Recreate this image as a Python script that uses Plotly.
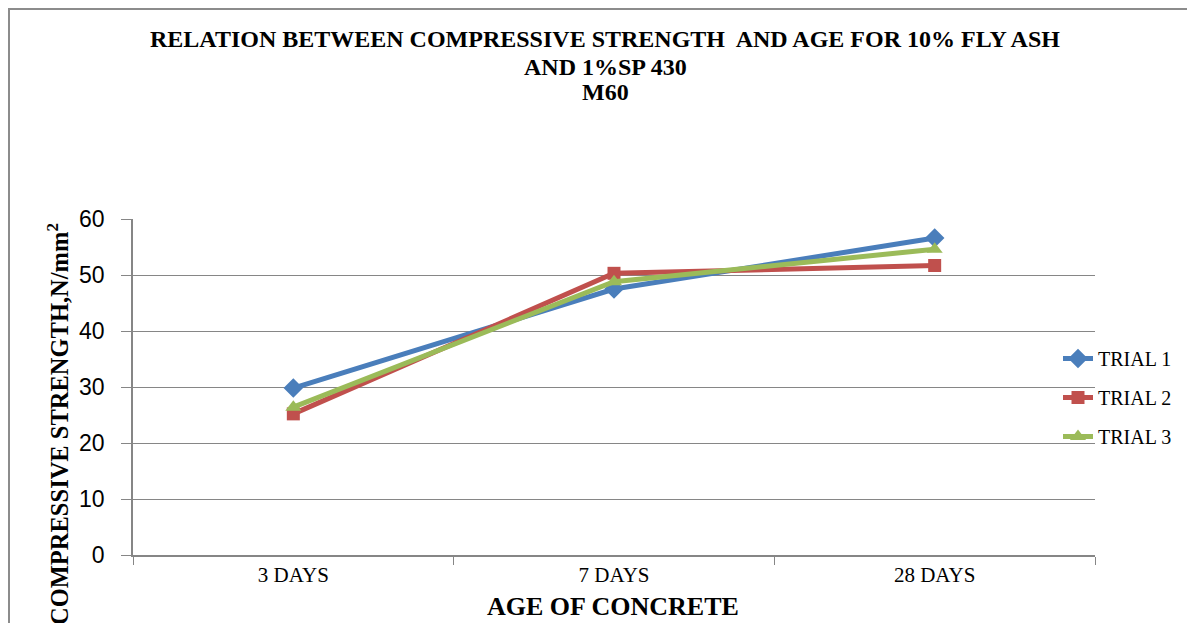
import plotly.graph_objects as go

categories = ["3 DAYS", "7 DAYS", "28 DAYS"]
trial1 = [29.8, 47.5, 56.6]
trial2 = [25.2, 50.3, 51.7]
trial3 = [26.4, 48.8, 54.6]
series_names = ["TRIAL 1", "TRIAL 2", "TRIAL 3"]
y_ticks = [0, 10, 20, 30, 40, 50, 60]

# page offset (browser body margin)
OFF = 8
W, H = 1195, 623
# plot area in screen pixels: x 133..1095, y 219..555
SX0, SX1, SY0, SY1 = 133, 1095, 219, 555
L, T = SX0 - OFF, SY0 - OFF
R, B = W - (SX1 - OFF), H - (SY1 - OFF)
PW, PH = SX1 - SX0, SY1 - SY0


def px_x(p):
    return (p - SX0) / PW


def px_y(p):
    return (SY1 - p) / PH


fig = go.Figure()
styles = [
    dict(color="#4A7EBB", symbol="diamond", size=15),
    dict(color="#C0504D", symbol="square", size=13),
    dict(color="#9BBB59", symbol="triangle-up", size=14),
]
for name, vals, st in zip(series_names, [trial1, trial2, trial3], styles):
    fig.add_trace(go.Scatter(
        x=categories, y=vals, name=name, mode="lines+markers",
        line=dict(color=st["color"], width=5),
        marker=dict(color=st["color"], symbol=st["symbol"], size=st["size"]),
        legendgroup=name,
    ))

serif = "Liberation Serif, Times New Roman, serif"

fig.update_layout(
    width=W, height=H,
    margin=dict(l=L, r=R, t=T, b=B, autoexpand=False),
    paper_bgcolor="white", plot_bgcolor="white",
    showlegend=True,
    legend=dict(
        x=px_x(1058), y=px_y(339), xanchor="left", yanchor="top",
        bgcolor="rgba(0,0,0,0)", font=dict(family=serif, size=20, color="black"),
        traceorder="grouped", tracegroupgap=10,
    ),
    xaxis=dict(
        type="category", categoryorder="array", categoryarray=categories,
        range=[-0.5, 2.5], showgrid=False, showline=True, linecolor="#868686",
        linewidth=1.5, ticks="outside", tickson="boundaries", ticklen=8,
        tickcolor="#868686", tickfont=dict(family=serif, size=21, color="black"),
        zeroline=False,
    ),
    yaxis=dict(
        range=[0, 60], tickvals=y_ticks, showgrid=True, gridcolor="#868686",
        gridwidth=1, showline=True, linecolor="#868686", linewidth=1.5,
        ticks="outside", ticklen=10, tickcolor="#868686",
        tickfont=dict(family="Liberation Sans, Arial, sans-serif", size=23, color="black"),
        ticklabelstandoff=12, zeroline=False,
    ),
    shapes=[dict(
        type="rect", xref="paper", yref="paper",
        x0=px_x(OFF + 1), x1=px_x(1240), y0=px_y(680), y1=px_y(OFF + 1),
        line=dict(color="#8C8C8C", width=2), layer="below",
    )],
)

title_lines = [
    ("RELATION BETWEEN COMPRESSIVE STRENGTH  AND AGE FOR 10% FLY ASH", 38.5),
    ("AND 1%SP 430", 67.5),
    ("M60", 92),
]
for txt, yp in title_lines:
    fig.add_annotation(
        text=txt, xref="paper", yref="paper", x=px_x(605), y=px_y(yp),
        xanchor="center", yanchor="middle", showarrow=False,
        font=dict(family=serif, size=24, color="black", weight="bold"),
    )

fig.add_annotation(
    text="AGE OF CONCRETE", xref="paper", yref="paper", x=px_x(613), y=px_y(606),
    xanchor="center", yanchor="middle", showarrow=False,
    font=dict(family=serif, size=26, color="black", weight="bold"),
)
fig.add_annotation(
    text="COMPRESSIVE STRENGTH,N/mm<sup>2</sup>", xref="paper", yref="paper",
    x=px_x(58), y=px_y(221), xanchor="center", yanchor="top", textangle=-90,
    showarrow=False,
    font=dict(family=serif, size=24.5, color="black", weight="bold"),
)

fig.write_html("out.html")
